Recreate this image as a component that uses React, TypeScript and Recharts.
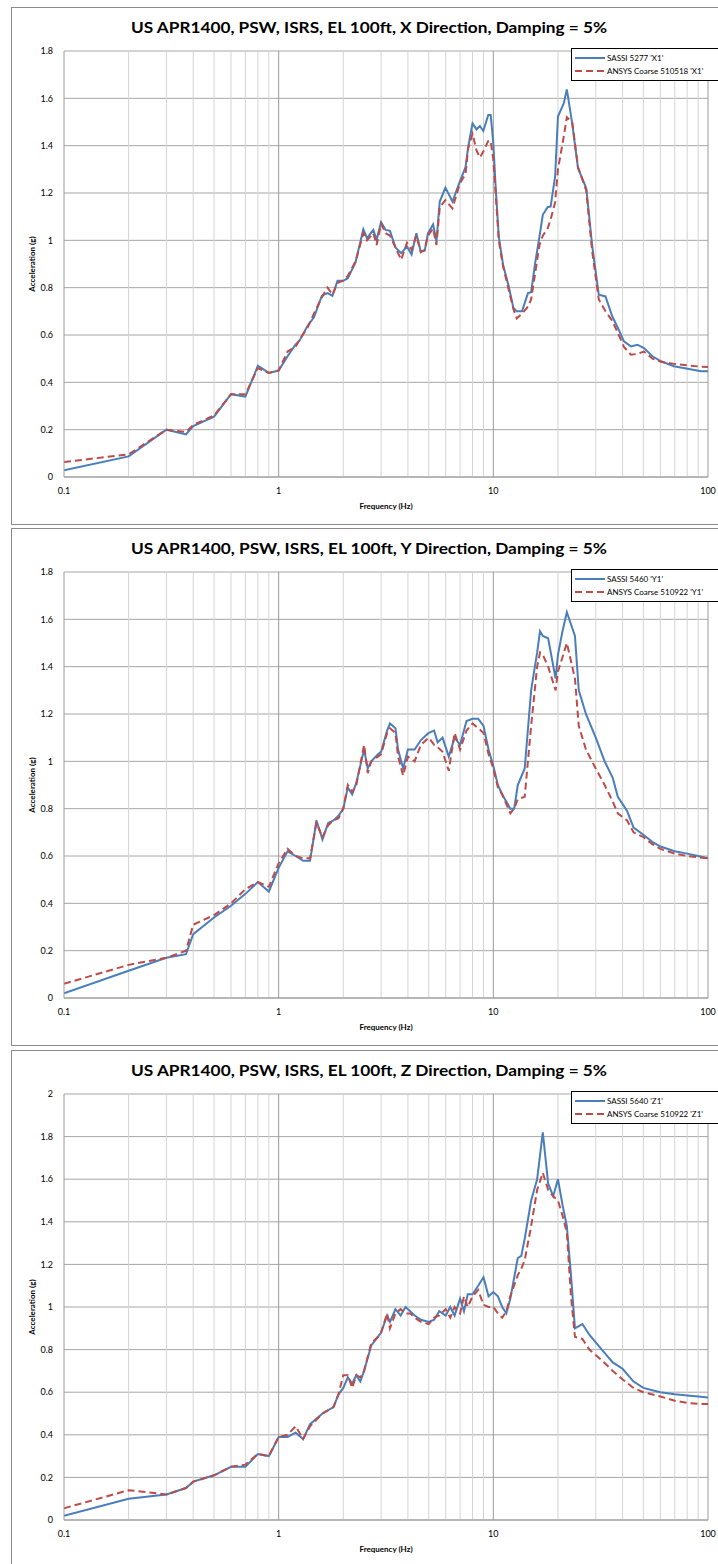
import React from 'react';
import { LineChart, Line, XAxis, YAxis, CartesianGrid, ReferenceLine } from 'recharts';

// ---------- grid / ticks ----------
const minorFreqs = [0.2, 0.3, 0.4, 0.5, 0.6, 0.7, 0.8, 0.9, 2, 3, 4, 5, 6, 7, 8, 9, 20, 30, 40, 50, 60, 70, 80, 90];
const decadeFreqs = [1, 10, 100];
const xTicks = [0.1, 1, 10, 100];
const yTicks18 = [0, 0.2, 0.4, 0.6, 0.8, 1, 1.2, 1.4, 1.6, 1.8];
const yTicks20 = [0, 0.2, 0.4, 0.6, 0.8, 1, 1.2, 1.4, 1.6, 1.8, 2];

// ---------- X direction ----------
const freqX = [0.1, 0.2, 0.3, 0.37, 0.4, 0.5, 0.6, 0.7, 0.8, 0.9, 1.0, 1.1, 1.2, 1.25, 1.36, 1.46, 1.59, 1.69, 1.78, 1.88, 2.0, 2.1, 2.28, 2.48, 2.58, 2.76, 2.86, 3.0, 3.15, 3.3, 3.5, 3.72, 3.96, 4.16, 4.38, 4.59, 4.79, 4.96, 5.24, 5.43, 5.63, 5.98, 6.45, 6.98, 7.42, 7.64, 8.0, 8.35, 8.66, 8.98, 9.47, 9.72, 10.0, 10.25, 10.6, 11.1, 11.8, 12.4, 12.85, 13.6, 14.5, 15.0, 15.66, 16.4, 17.0, 17.9, 18.5, 19.4, 20.0, 21.3, 22.0, 23.3, 24.8, 27.1, 28.9, 31.0, 33.3, 35.8, 38.4, 40.6, 43.7, 46.9, 50.3, 55.1, 60.4, 69.4, 80.3, 92.8, 100];
const sassiX = [0.028, 0.087, 0.2, 0.18, 0.215, 0.255, 0.35, 0.34, 0.47, 0.44, 0.45, 0.51, 0.56, 0.576, 0.637, 0.675, 0.766, 0.777, 0.766, 0.829, 0.829, 0.84, 0.907, 1.047, 1.009, 1.044, 1.002, 1.077, 1.044, 1.04, 0.97, 0.946, 0.974, 0.94, 1.03, 0.953, 0.956, 1.03, 1.068, 0.995, 1.164, 1.223, 1.164, 1.248, 1.309, 1.396, 1.494, 1.469, 1.483, 1.462, 1.53, 1.53, 1.41, 1.227, 1.016, 0.897, 0.805, 0.714, 0.7, 0.7, 0.777, 0.781, 0.904, 1.016, 1.108, 1.14, 1.143, 1.27, 1.523, 1.58, 1.638, 1.494, 1.305, 1.22, 0.974, 0.77, 0.763, 0.679, 0.622, 0.573, 0.552, 0.559, 0.545, 0.51, 0.489, 0.468, 0.457, 0.447, 0.447];
const ansysX = [0.063, 0.096, 0.2, 0.19, 0.22, 0.26, 0.35, 0.35, 0.46, 0.44, 0.45, 0.53, 0.55, 0.58, 0.63, 0.69, 0.76, 0.8, 0.77, 0.82, 0.83, 0.85, 0.91, 1.03, 1.0, 1.03, 0.98, 1.07, 1.03, 1.02, 0.97, 0.918, 0.99, 0.96, 1.02, 0.95, 0.96, 1.02, 1.05, 0.98, 1.14, 1.17, 1.135, 1.24, 1.28, 1.39, 1.45, 1.38, 1.35, 1.375, 1.42, 1.42, 1.34, 1.2, 1.0, 0.89, 0.79, 0.71, 0.67, 0.69, 0.72, 0.75, 0.86, 0.98, 1.02, 1.05, 1.09, 1.16, 1.3, 1.44, 1.52, 1.5, 1.31, 1.21, 0.95, 0.75, 0.7, 0.66, 0.6, 0.55, 0.517, 0.52, 0.53, 0.5, 0.487, 0.478, 0.472, 0.466, 0.465];

// ---------- Y direction ----------
const freqY = [0.1, 0.2, 0.3, 0.37, 0.4, 0.5, 0.6, 0.7, 0.8, 0.9, 1.0, 1.1, 1.2, 1.3, 1.4, 1.5, 1.6, 1.7, 1.8, 1.9, 2.0, 2.1, 2.2, 2.3, 2.5, 2.6, 2.7, 2.9, 3.0, 3.2, 3.3, 3.5, 3.6, 3.8, 4.0, 4.3, 4.6, 5.0, 5.3, 5.5, 5.8, 6.2, 6.6, 7.0, 7.5, 8.0, 8.5, 9.0, 9.5, 10, 10.5, 11, 12, 12.5, 13, 14, 15, 16, 16.5, 17, 18, 19.5, 20, 21, 22, 24, 25, 27, 30, 33, 36, 38, 42, 45, 50, 55, 60, 70, 80, 90, 100];
const sassiY = [0.02, 0.115, 0.17, 0.185, 0.27, 0.34, 0.39, 0.44, 0.49, 0.45, 0.55, 0.62, 0.6, 0.58, 0.58, 0.75, 0.67, 0.74, 0.75, 0.77, 0.8, 0.89, 0.86, 0.91, 1.05, 0.97, 1.0, 1.03, 1.04, 1.13, 1.16, 1.14, 1.05, 0.97, 1.05, 1.05, 1.09, 1.12, 1.13, 1.08, 1.1, 1.02, 1.1, 1.07, 1.17, 1.18, 1.18, 1.15, 1.05, 0.98, 0.9, 0.86, 0.8, 0.8, 0.9, 0.97, 1.3, 1.46, 1.55, 1.53, 1.52, 1.35, 1.45, 1.55, 1.63, 1.53, 1.3, 1.2, 1.1, 1.0, 0.93, 0.85, 0.79, 0.72, 0.69, 0.66, 0.64, 0.62, 0.61, 0.6, 0.59];
const ansysY = [0.06, 0.14, 0.17, 0.2, 0.31, 0.35, 0.4, 0.46, 0.49, 0.47, 0.57, 0.63, 0.6, 0.59, 0.59, 0.74, 0.68, 0.73, 0.75, 0.76, 0.8, 0.9, 0.87, 0.9, 1.07, 0.95, 1.0, 1.02, 1.03, 1.12, 1.14, 1.12, 1.02, 0.94, 1.02, 1.0, 1.07, 1.1, 1.07, 1.06, 1.04, 0.96, 1.12, 1.05, 1.13, 1.16, 1.14, 1.12, 1.03, 0.97, 0.89, 0.86, 0.78, 0.8, 0.84, 0.85, 1.15, 1.4, 1.46, 1.45, 1.4, 1.3, 1.38, 1.44, 1.5, 1.35, 1.15, 1.05, 0.97, 0.9, 0.83, 0.78, 0.75, 0.7, 0.68, 0.65, 0.63, 0.61, 0.6, 0.595, 0.59];

// ---------- Z direction ----------
const freqZ = [0.1, 0.2, 0.3, 0.37, 0.4, 0.5, 0.6, 0.7, 0.8, 0.9, 1.0, 1.1, 1.2, 1.3, 1.4, 1.6, 1.8, 1.9, 2.0, 2.1, 2.2, 2.3, 2.4, 2.5, 2.7, 2.9, 3.0, 3.2, 3.3, 3.5, 3.7, 3.9, 4.1, 4.3, 4.6, 5.0, 5.3, 5.6, 6.0, 6.3, 6.6, 7.0, 7.3, 7.6, 8.0, 8.5, 9.0, 9.5, 10, 10.5, 11, 11.5, 12, 13, 13.5, 14, 15, 16, 17, 18, 19, 20, 21, 22, 23, 24, 26, 28, 32, 36, 40, 45, 50, 60, 70, 80, 90, 100];
const sassiZ = [0.02, 0.1, 0.12, 0.15, 0.18, 0.21, 0.25, 0.25, 0.31, 0.3, 0.39, 0.39, 0.41, 0.38, 0.45, 0.5, 0.53, 0.59, 0.62, 0.67, 0.64, 0.68, 0.65, 0.7, 0.82, 0.86, 0.88, 0.96, 0.93, 0.99, 0.96, 1.0, 0.98, 0.96, 0.94, 0.93, 0.94, 0.98, 0.96, 1.0, 0.96, 1.04, 0.98, 1.06, 1.06, 1.1, 1.14, 1.05, 1.07, 1.05, 1.0, 0.97, 1.04, 1.23, 1.24, 1.32, 1.5, 1.6, 1.82, 1.58, 1.52, 1.6, 1.48, 1.38, 1.15, 0.9, 0.92, 0.87, 0.8, 0.74, 0.71, 0.65, 0.62, 0.6, 0.59, 0.585, 0.58, 0.575];
const ansysZ = [0.055, 0.14, 0.12, 0.15, 0.18, 0.21, 0.25, 0.26, 0.31, 0.3, 0.39, 0.4, 0.44, 0.38, 0.44, 0.5, 0.53, 0.59, 0.68, 0.68, 0.62, 0.68, 0.67, 0.7, 0.83, 0.86, 0.88, 0.97, 0.9, 0.97, 0.99, 0.97, 0.97, 0.95, 0.93, 0.92, 0.95, 0.96, 0.99, 0.95, 1.0, 0.97, 1.05, 1.0, 1.05, 1.08, 1.01, 1.0, 1.0, 0.97, 0.95, 0.98, 1.05, 1.15, 1.18, 1.22, 1.38, 1.55, 1.63, 1.55, 1.52, 1.5, 1.43, 1.35, 1.05, 0.86, 0.85, 0.8, 0.75, 0.7, 0.66, 0.62, 0.6, 0.58, 0.56, 0.55, 0.545, 0.545];

const FONT = 'Lato, "Open Sans", sans-serif';
const BLUE = '#4a7ebb';
const RED = '#be4b48';

type PanelProps = {
  top: number;
  title: string;
  freqs: number[];
  sassi: number[];
  ansys: number[];
  sassiName: string;
  ansysName: string;
  yMax: number;
  yTicks: number[];
};

function Panel({ top, title, freqs, sassi, ansys, sassiName, ansysName, yMax, yTicks }: PanelProps) {
  const data = freqs.map((f, i) => ({ f, sassi: sassi[i], ansys: ansys[i] }));
  return (
    <div style={{ position: 'absolute', left: 0, top, width: 718, height: 518 }}>
      <div
        style={{
          position: 'absolute',
          left: 11,
          top: 0,
          width: 720,
          height: 518,
          border: '1px solid #8a8a8a',
          boxSizing: 'border-box',
          background: '#fff',
        }}
      />
      <svg style={{ position: 'absolute', left: 0, top: 0 }} width={718} height={40}>
        <text
          x={369}
          y={26}
          textAnchor="middle"
          textLength={476}
          lengthAdjust="spacingAndGlyphs"
          fontFamily={FONT}
          fontWeight="bold"
          fontSize={16}
          fill="#000"
        >
          {title}
        </text>
      </svg>
      <div style={{ position: 'absolute', left: 0, top: 0 }}>
        <LineChart width={718} height={518} data={data} margin={{ top: 44, right: 10, left: 0, bottom: 16 }}>
          <CartesianGrid horizontal={true} vertical={false} stroke="#a6a6a6" strokeWidth={1} />
          {minorFreqs.map((f) => (
            <ReferenceLine key={'m' + f} x={f} stroke="#d4d4d4" strokeWidth={1} />
          ))}
          {decadeFreqs.map((f) => (
            <ReferenceLine key={'d' + f} x={f} stroke="#9a9a9a" strokeWidth={1} />
          ))}
          <XAxis
            dataKey="f"
            type="number"
            scale="log"
            domain={[0.1, 100]}
            ticks={xTicks}
            interval={0}
            allowDataOverflow
            height={32}
            tickLine={false}
            tickSize={0}
            tickMargin={11}
            axisLine={{ stroke: '#9a9a9a' }}
            tick={{ fontSize: 9, fill: '#000', fontFamily: FONT }}
            label={{
              value: 'Frequency (Hz)',
              position: 'insideBottom',
              offset: 0,
              style: { fontSize: 8, fontWeight: 'bold', fill: '#000', fontFamily: FONT },
            }}
          />
          <YAxis
            type="number"
            domain={[0, yMax]}
            ticks={yTicks}
            interval={0}
            width={64}
            tickLine={false}
            tickSize={0}
            tickMargin={11}
            axisLine={{ stroke: '#9a9a9a' }}
            tick={{ fontSize: 9, fill: '#000', fontFamily: FONT }}
            label={{
              value: 'Acceleration (g)',
              angle: -90,
              position: 'center',
              style: { fontSize: 8, fontWeight: 'bold', fill: '#000', fontFamily: FONT, textAnchor: 'middle' },
            }}
          />
          <Line
            type="linear"
            dataKey="sassi"
            name={sassiName}
            stroke={BLUE}
            strokeWidth={2}
            dot={false}
            activeDot={false}
            isAnimationActive={false}
          />
          <Line
            type="linear"
            dataKey="ansys"
            name={ansysName}
            stroke={RED}
            strokeWidth={2}
            strokeDasharray="7 4"
            dot={false}
            activeDot={false}
            isAnimationActive={false}
          />
        </LineChart>
      </div>
      <svg style={{ position: 'absolute', left: 0, top: 0 }} width={718} height={120}>
        <rect x={571.5} y={41.5} width={160} height={32} fill="#fff" stroke="#000" strokeWidth={1} />
        <line x1={575} y1={51} x2={605} y2={51} stroke={BLUE} strokeWidth={2} />
        <text x={607} y={54} fontSize={8} fontFamily={FONT} fill="#000">{sassiName}</text>
        <line x1={575} y1={64} x2={605} y2={64} stroke={RED} strokeWidth={2} strokeDasharray="7 4" />
        <text x={607} y={67} fontSize={8} fontFamily={FONT} fill="#000">{ansysName}</text>
      </svg>
    </div>
  );
}

export default function App() {
  return (
    <div style={{ position: 'absolute', left: 0, top: 0, width: 718, height: 1564, background: '#fff', overflow: 'hidden' }}>
      <Panel
        top={7}
        title="US APR1400,  PSW, ISRS, EL 100ft, X Direction, Damping = 5%"
        freqs={freqX}
        sassi={sassiX}
        ansys={ansysX}
        sassiName="SASSI  5277 'X1'"
        ansysName="ANSYS Coarse 510518 'X1'"
        yMax={1.8}
        yTicks={yTicks18}
      />
      <Panel
        top={528}
        title="US APR1400,  PSW, ISRS, EL 100ft, Y Direction, Damping = 5%"
        freqs={freqY}
        sassi={sassiY}
        ansys={ansysY}
        sassiName="SASSI  5460 'Y1'"
        ansysName="ANSYS Coarse 510922 'Y1'"
        yMax={1.8}
        yTicks={yTicks18}
      />
      <Panel
        top={1050}
        title="US APR1400,  PSW, ISRS, EL 100ft, Z Direction, Damping = 5%"
        freqs={freqZ}
        sassi={sassiZ}
        ansys={ansysZ}
        sassiName="SASSI  5640 'Z1'"
        ansysName="ANSYS Coarse 510922 'Z1'"
        yMax={2}
        yTicks={yTicks20}
      />
    </div>
  );
}
